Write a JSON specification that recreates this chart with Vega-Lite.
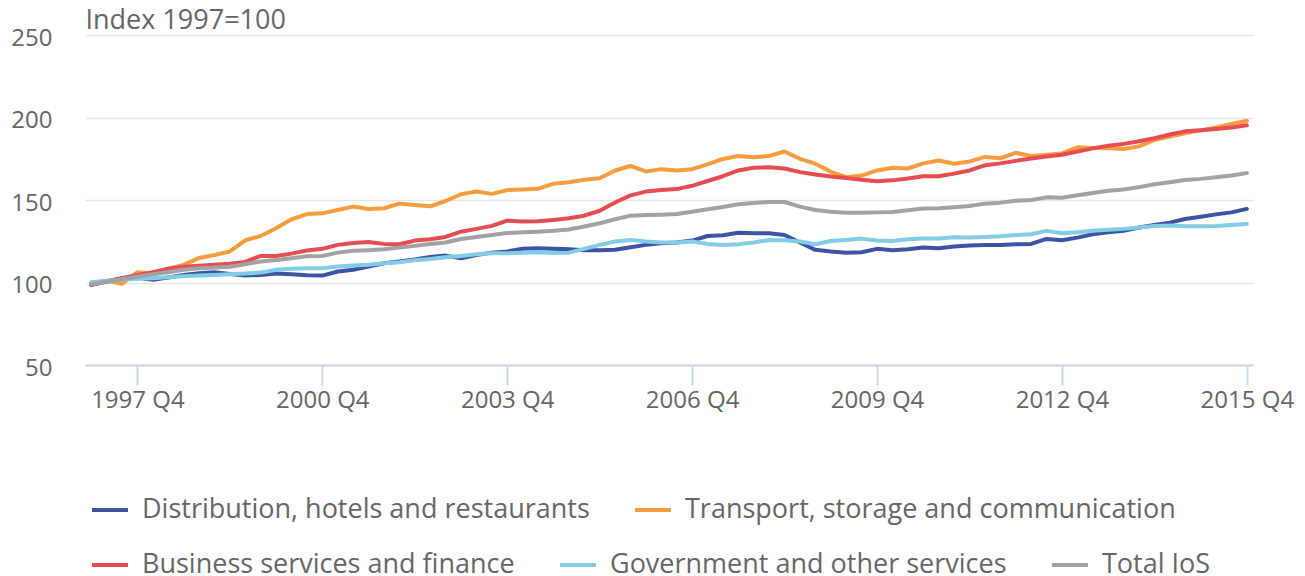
{
"$schema": "https://vega.github.io/schema/vega-lite/v6.json",
"width": 1168, "height": 330,
"autosize": {"type": "none"},
"padding": {"left": 85, "top": 35, "right": 52, "bottom": 211},
"background": "white",
"config": {
  "font": "Open Sans",
  "view": {"stroke": null},
  "axis": {"labelFont": "Open Sans", "labelFontSize": 24, "labelColor": "#666666", "titleFont": "Open Sans"},
  "legend": {"symbolType": "stroke", "symbolSize": 1296, "symbolStrokeWidth": 4, "labelFont": "Open Sans", "labelFontSize": 27, "labelColor": "#666666", "labelLimit": 1000, "labelOffset": 12, "columnPadding": 37, "padding": 0}
},
"data": {"values": [
{"q":"1997 Q1","s":"Distribution, hotels and restaurants","v":98.6},{"q":"1997 Q2","s":"Distribution, hotels and restaurants","v":100.6},{"q":"1997 Q3","s":"Distribution, hotels and restaurants","v":102.6},{"q":"1997 Q4","s":"Distribution, hotels and restaurants","v":103},
{"q":"1998 Q1","s":"Distribution, hotels and restaurants","v":101.6},{"q":"1998 Q2","s":"Distribution, hotels and restaurants","v":103},{"q":"1998 Q3","s":"Distribution, hotels and restaurants","v":104.6},{"q":"1998 Q4","s":"Distribution, hotels and restaurants","v":105.6},
{"q":"1999 Q1","s":"Distribution, hotels and restaurants","v":106.2},{"q":"1999 Q2","s":"Distribution, hotels and restaurants","v":105.2},{"q":"1999 Q3","s":"Distribution, hotels and restaurants","v":104.2},{"q":"1999 Q4","s":"Distribution, hotels and restaurants","v":104.6},
{"q":"2000 Q1","s":"Distribution, hotels and restaurants","v":105.4},{"q":"2000 Q2","s":"Distribution, hotels and restaurants","v":105},{"q":"2000 Q3","s":"Distribution, hotels and restaurants","v":104.4},{"q":"2000 Q4","s":"Distribution, hotels and restaurants","v":104.2},
{"q":"2001 Q1","s":"Distribution, hotels and restaurants","v":106.7},{"q":"2001 Q2","s":"Distribution, hotels and restaurants","v":107.7},{"q":"2001 Q3","s":"Distribution, hotels and restaurants","v":109.7},{"q":"2001 Q4","s":"Distribution, hotels and restaurants","v":111.7},
{"q":"2002 Q1","s":"Distribution, hotels and restaurants","v":112.7},{"q":"2002 Q2","s":"Distribution, hotels and restaurants","v":113.9},{"q":"2002 Q3","s":"Distribution, hotels and restaurants","v":115.4},{"q":"2002 Q4","s":"Distribution, hotels and restaurants","v":116.3},
{"q":"2003 Q1","s":"Distribution, hotels and restaurants","v":114.7},{"q":"2003 Q2","s":"Distribution, hotels and restaurants","v":116.7},{"q":"2003 Q3","s":"Distribution, hotels and restaurants","v":118.1},{"q":"2003 Q4","s":"Distribution, hotels and restaurants","v":118.8},
{"q":"2004 Q1","s":"Distribution, hotels and restaurants","v":120.4},{"q":"2004 Q2","s":"Distribution, hotels and restaurants","v":120.8},{"q":"2004 Q3","s":"Distribution, hotels and restaurants","v":120.4},{"q":"2004 Q4","s":"Distribution, hotels and restaurants","v":120.2},
{"q":"2005 Q1","s":"Distribution, hotels and restaurants","v":119.6},{"q":"2005 Q2","s":"Distribution, hotels and restaurants","v":119.6},{"q":"2005 Q3","s":"Distribution, hotels and restaurants","v":119.8},{"q":"2005 Q4","s":"Distribution, hotels and restaurants","v":121.4},
{"q":"2006 Q1","s":"Distribution, hotels and restaurants","v":122.8},{"q":"2006 Q2","s":"Distribution, hotels and restaurants","v":123.8},{"q":"2006 Q3","s":"Distribution, hotels and restaurants","v":124.2},{"q":"2006 Q4","s":"Distribution, hotels and restaurants","v":125.4},
{"q":"2007 Q1","s":"Distribution, hotels and restaurants","v":128.2},{"q":"2007 Q2","s":"Distribution, hotels and restaurants","v":128.6},{"q":"2007 Q3","s":"Distribution, hotels and restaurants","v":130.2},{"q":"2007 Q4","s":"Distribution, hotels and restaurants","v":129.8},
{"q":"2008 Q1","s":"Distribution, hotels and restaurants","v":129.8},{"q":"2008 Q2","s":"Distribution, hotels and restaurants","v":128.8},{"q":"2008 Q3","s":"Distribution, hotels and restaurants","v":124.2},{"q":"2008 Q4","s":"Distribution, hotels and restaurants","v":119.8},
{"q":"2009 Q1","s":"Distribution, hotels and restaurants","v":118.8},{"q":"2009 Q2","s":"Distribution, hotels and restaurants","v":118.1},{"q":"2009 Q3","s":"Distribution, hotels and restaurants","v":118.3},{"q":"2009 Q4","s":"Distribution, hotels and restaurants","v":120.4},
{"q":"2010 Q1","s":"Distribution, hotels and restaurants","v":119.6},{"q":"2010 Q2","s":"Distribution, hotels and restaurants","v":120.2},{"q":"2010 Q3","s":"Distribution, hotels and restaurants","v":121.2},{"q":"2010 Q4","s":"Distribution, hotels and restaurants","v":120.8},
{"q":"2011 Q1","s":"Distribution, hotels and restaurants","v":121.8},{"q":"2011 Q2","s":"Distribution, hotels and restaurants","v":122.4},{"q":"2011 Q3","s":"Distribution, hotels and restaurants","v":122.8},{"q":"2011 Q4","s":"Distribution, hotels and restaurants","v":122.8},
{"q":"2012 Q1","s":"Distribution, hotels and restaurants","v":123.2},{"q":"2012 Q2","s":"Distribution, hotels and restaurants","v":123.4},{"q":"2012 Q3","s":"Distribution, hotels and restaurants","v":126.4},{"q":"2012 Q4","s":"Distribution, hotels and restaurants","v":125.6},
{"q":"2013 Q1","s":"Distribution, hotels and restaurants","v":127.2},{"q":"2013 Q2","s":"Distribution, hotels and restaurants","v":129.2},{"q":"2013 Q3","s":"Distribution, hotels and restaurants","v":130.4},{"q":"2013 Q4","s":"Distribution, hotels and restaurants","v":131.3},
{"q":"2014 Q1","s":"Distribution, hotels and restaurants","v":133.3},{"q":"2014 Q2","s":"Distribution, hotels and restaurants","v":134.9},{"q":"2014 Q3","s":"Distribution, hotels and restaurants","v":136.3},{"q":"2014 Q4","s":"Distribution, hotels and restaurants","v":138.5},
{"q":"2015 Q1","s":"Distribution, hotels and restaurants","v":139.9},{"q":"2015 Q2","s":"Distribution, hotels and restaurants","v":141.3},{"q":"2015 Q3","s":"Distribution, hotels and restaurants","v":142.5},{"q":"2015 Q4","s":"Distribution, hotels and restaurants","v":144.6},

{"q":"1997 Q1","s":"Transport, storage and communication","v":99},{"q":"1997 Q2","s":"Transport, storage and communication","v":101},{"q":"1997 Q3","s":"Transport, storage and communication","v":99.2},{"q":"1997 Q4","s":"Transport, storage and communication","v":106.2},
{"q":"1998 Q1","s":"Transport, storage and communication","v":105.4},{"q":"1998 Q2","s":"Transport, storage and communication","v":108.3},{"q":"1998 Q3","s":"Transport, storage and communication","v":110.7},{"q":"1998 Q4","s":"Transport, storage and communication","v":114.9},
{"q":"1999 Q1","s":"Transport, storage and communication","v":116.7},{"q":"1999 Q2","s":"Transport, storage and communication","v":118.8},{"q":"1999 Q3","s":"Transport, storage and communication","v":125.6},{"q":"1999 Q4","s":"Transport, storage and communication","v":128.2},
{"q":"2000 Q1","s":"Transport, storage and communication","v":132.9},{"q":"2000 Q2","s":"Transport, storage and communication","v":138.3},{"q":"2000 Q3","s":"Transport, storage and communication","v":141.5},{"q":"2000 Q4","s":"Transport, storage and communication","v":141.9},
{"q":"2001 Q1","s":"Transport, storage and communication","v":143.9},{"q":"2001 Q2","s":"Transport, storage and communication","v":146},{"q":"2001 Q3","s":"Transport, storage and communication","v":144.6},{"q":"2001 Q4","s":"Transport, storage and communication","v":145},
{"q":"2002 Q1","s":"Transport, storage and communication","v":147.8},{"q":"2002 Q2","s":"Transport, storage and communication","v":147},{"q":"2002 Q3","s":"Transport, storage and communication","v":146.2},{"q":"2002 Q4","s":"Transport, storage and communication","v":149.4},
{"q":"2003 Q1","s":"Transport, storage and communication","v":153.5},{"q":"2003 Q2","s":"Transport, storage and communication","v":155.1},{"q":"2003 Q3","s":"Transport, storage and communication","v":153.7},{"q":"2003 Q4","s":"Transport, storage and communication","v":156},
{"q":"2004 Q1","s":"Transport, storage and communication","v":156.4},{"q":"2004 Q2","s":"Transport, storage and communication","v":156.8},{"q":"2004 Q3","s":"Transport, storage and communication","v":159.9},{"q":"2004 Q4","s":"Transport, storage and communication","v":160.7},
{"q":"2005 Q1","s":"Transport, storage and communication","v":162.3},{"q":"2005 Q2","s":"Transport, storage and communication","v":163.2},{"q":"2005 Q3","s":"Transport, storage and communication","v":167.9},{"q":"2005 Q4","s":"Transport, storage and communication","v":170.6},
{"q":"2006 Q1","s":"Transport, storage and communication","v":167.3},{"q":"2006 Q2","s":"Transport, storage and communication","v":168.7},{"q":"2006 Q3","s":"Transport, storage and communication","v":167.9},{"q":"2006 Q4","s":"Transport, storage and communication","v":168.7},
{"q":"2007 Q1","s":"Transport, storage and communication","v":171.6},{"q":"2007 Q2","s":"Transport, storage and communication","v":174.9},{"q":"2007 Q3","s":"Transport, storage and communication","v":176.7},{"q":"2007 Q4","s":"Transport, storage and communication","v":175.9},
{"q":"2008 Q1","s":"Transport, storage and communication","v":176.7},{"q":"2008 Q2","s":"Transport, storage and communication","v":179.4},{"q":"2008 Q3","s":"Transport, storage and communication","v":174.9},{"q":"2008 Q4","s":"Transport, storage and communication","v":172},
{"q":"2009 Q1","s":"Transport, storage and communication","v":167.1},{"q":"2009 Q2","s":"Transport, storage and communication","v":163.8},{"q":"2009 Q3","s":"Transport, storage and communication","v":164.8},{"q":"2009 Q4","s":"Transport, storage and communication","v":167.9},
{"q":"2010 Q1","s":"Transport, storage and communication","v":169.5},{"q":"2010 Q2","s":"Transport, storage and communication","v":169.1},{"q":"2010 Q3","s":"Transport, storage and communication","v":172.2},{"q":"2010 Q4","s":"Transport, storage and communication","v":173.9},
{"q":"2011 Q1","s":"Transport, storage and communication","v":172},{"q":"2011 Q2","s":"Transport, storage and communication","v":173.3},{"q":"2011 Q3","s":"Transport, storage and communication","v":176.1},{"q":"2011 Q4","s":"Transport, storage and communication","v":175.3},
{"q":"2012 Q1","s":"Transport, storage and communication","v":178.6},{"q":"2012 Q2","s":"Transport, storage and communication","v":176.7},{"q":"2012 Q3","s":"Transport, storage and communication","v":177.4},{"q":"2012 Q4","s":"Transport, storage and communication","v":178.2},
{"q":"2013 Q1","s":"Transport, storage and communication","v":181.9},{"q":"2013 Q2","s":"Transport, storage and communication","v":181.5},{"q":"2013 Q3","s":"Transport, storage and communication","v":181.3},{"q":"2013 Q4","s":"Transport, storage and communication","v":180.9},
{"q":"2014 Q1","s":"Transport, storage and communication","v":182.5},{"q":"2014 Q2","s":"Transport, storage and communication","v":186.4},{"q":"2014 Q3","s":"Transport, storage and communication","v":188.5},{"q":"2014 Q4","s":"Transport, storage and communication","v":190.5},
{"q":"2015 Q1","s":"Transport, storage and communication","v":192.2},{"q":"2015 Q2","s":"Transport, storage and communication","v":194},{"q":"2015 Q3","s":"Transport, storage and communication","v":196.1},{"q":"2015 Q4","s":"Transport, storage and communication","v":198},

{"q":"1997 Q1","s":"Business services and finance","v":98.6},{"q":"1997 Q2","s":"Business services and finance","v":100.6},{"q":"1997 Q3","s":"Business services and finance","v":102.6},{"q":"1997 Q4","s":"Business services and finance","v":104.6},
{"q":"1998 Q1","s":"Business services and finance","v":106.2},{"q":"1998 Q2","s":"Business services and finance","v":108.3},{"q":"1998 Q3","s":"Business services and finance","v":109.5},{"q":"1998 Q4","s":"Business services and finance","v":110.1},
{"q":"1999 Q1","s":"Business services and finance","v":110.7},{"q":"1999 Q2","s":"Business services and finance","v":111.3},{"q":"1999 Q3","s":"Business services and finance","v":112.5},{"q":"1999 Q4","s":"Business services and finance","v":116.1},
{"q":"2000 Q1","s":"Business services and finance","v":116.1},{"q":"2000 Q2","s":"Business services and finance","v":117.5},{"q":"2000 Q3","s":"Business services and finance","v":119.4},{"q":"2000 Q4","s":"Business services and finance","v":120.4},
{"q":"2001 Q1","s":"Business services and finance","v":122.8},{"q":"2001 Q2","s":"Business services and finance","v":124},{"q":"2001 Q3","s":"Business services and finance","v":124.6},{"q":"2001 Q4","s":"Business services and finance","v":123.4},
{"q":"2002 Q1","s":"Business services and finance","v":123.2},{"q":"2002 Q2","s":"Business services and finance","v":125.4},{"q":"2002 Q3","s":"Business services and finance","v":126.2},{"q":"2002 Q4","s":"Business services and finance","v":127.6},
{"q":"2003 Q1","s":"Business services and finance","v":130.8},{"q":"2003 Q2","s":"Business services and finance","v":132.5},{"q":"2003 Q3","s":"Business services and finance","v":134.3},{"q":"2003 Q4","s":"Business services and finance","v":137.5},
{"q":"2004 Q1","s":"Business services and finance","v":136.9},{"q":"2004 Q2","s":"Business services and finance","v":137.1},{"q":"2004 Q3","s":"Business services and finance","v":137.9},{"q":"2004 Q4","s":"Business services and finance","v":138.9},
{"q":"2005 Q1","s":"Business services and finance","v":140.5},{"q":"2005 Q2","s":"Business services and finance","v":143.5},{"q":"2005 Q3","s":"Business services and finance","v":148.5},{"q":"2005 Q4","s":"Business services and finance","v":152.8},
{"q":"2006 Q1","s":"Business services and finance","v":155.1},{"q":"2006 Q2","s":"Business services and finance","v":156},{"q":"2006 Q3","s":"Business services and finance","v":156.6},{"q":"2006 Q4","s":"Business services and finance","v":158.6},
{"q":"2007 Q1","s":"Business services and finance","v":161.5},{"q":"2007 Q2","s":"Business services and finance","v":164.4},{"q":"2007 Q3","s":"Business services and finance","v":167.9},{"q":"2007 Q4","s":"Business services and finance","v":169.5},
{"q":"2008 Q1","s":"Business services and finance","v":169.8},{"q":"2008 Q2","s":"Business services and finance","v":169.1},{"q":"2008 Q3","s":"Business services and finance","v":166.9},{"q":"2008 Q4","s":"Business services and finance","v":165.4},
{"q":"2009 Q1","s":"Business services and finance","v":164.2},{"q":"2009 Q2","s":"Business services and finance","v":163.4},{"q":"2009 Q3","s":"Business services and finance","v":162.3},{"q":"2009 Q4","s":"Business services and finance","v":161.3},
{"q":"2010 Q1","s":"Business services and finance","v":161.9},{"q":"2010 Q2","s":"Business services and finance","v":163},{"q":"2010 Q3","s":"Business services and finance","v":164.4},{"q":"2010 Q4","s":"Business services and finance","v":164.4},
{"q":"2011 Q1","s":"Business services and finance","v":166},{"q":"2011 Q2","s":"Business services and finance","v":167.9},{"q":"2011 Q3","s":"Business services and finance","v":171},{"q":"2011 Q4","s":"Business services and finance","v":172.2},
{"q":"2012 Q1","s":"Business services and finance","v":173.7},{"q":"2012 Q2","s":"Business services and finance","v":175.1},{"q":"2012 Q3","s":"Business services and finance","v":176.3},{"q":"2012 Q4","s":"Business services and finance","v":177.4},
{"q":"2013 Q1","s":"Business services and finance","v":179.4},{"q":"2013 Q2","s":"Business services and finance","v":181.3},{"q":"2013 Q3","s":"Business services and finance","v":182.9},{"q":"2013 Q4","s":"Business services and finance","v":184},
{"q":"2014 Q1","s":"Business services and finance","v":185.6},{"q":"2014 Q2","s":"Business services and finance","v":187.4},{"q":"2014 Q3","s":"Business services and finance","v":189.7},{"q":"2014 Q4","s":"Business services and finance","v":191.6},
{"q":"2015 Q1","s":"Business services and finance","v":192.2},{"q":"2015 Q2","s":"Business services and finance","v":193},{"q":"2015 Q3","s":"Business services and finance","v":194},{"q":"2015 Q4","s":"Business services and finance","v":195.3},

{"q":"1997 Q1","s":"Government and other services","v":100.2},{"q":"1997 Q2","s":"Government and other services","v":101},{"q":"1997 Q3","s":"Government and other services","v":101.6},{"q":"1997 Q4","s":"Government and other services","v":102.2},
{"q":"1998 Q1","s":"Government and other services","v":102.6},{"q":"1998 Q2","s":"Government and other services","v":103.2},{"q":"1998 Q3","s":"Government and other services","v":103.8},{"q":"1998 Q4","s":"Government and other services","v":104.2},
{"q":"1999 Q1","s":"Government and other services","v":104.6},{"q":"1999 Q2","s":"Government and other services","v":105},{"q":"1999 Q3","s":"Government and other services","v":105.4},{"q":"1999 Q4","s":"Government and other services","v":106},
{"q":"2000 Q1","s":"Government and other services","v":107.7},{"q":"2000 Q2","s":"Government and other services","v":108.3},{"q":"2000 Q3","s":"Government and other services","v":108.7},{"q":"2000 Q4","s":"Government and other services","v":108.7},
{"q":"2001 Q1","s":"Government and other services","v":109.7},{"q":"2001 Q2","s":"Government and other services","v":110.3},{"q":"2001 Q3","s":"Government and other services","v":110.7},{"q":"2001 Q4","s":"Government and other services","v":111.7},
{"q":"2002 Q1","s":"Government and other services","v":112.3},{"q":"2002 Q2","s":"Government and other services","v":113.5},{"q":"2002 Q3","s":"Government and other services","v":114.2},{"q":"2002 Q4","s":"Government and other services","v":115.3},
{"q":"2003 Q1","s":"Government and other services","v":116.1},{"q":"2003 Q2","s":"Government and other services","v":117.1},{"q":"2003 Q3","s":"Government and other services","v":117.7},{"q":"2003 Q4","s":"Government and other services","v":117.7},
{"q":"2004 Q1","s":"Government and other services","v":118.1},{"q":"2004 Q2","s":"Government and other services","v":118.3},{"q":"2004 Q3","s":"Government and other services","v":117.9},{"q":"2004 Q4","s":"Government and other services","v":118.1},
{"q":"2005 Q1","s":"Government and other services","v":120.4},{"q":"2005 Q2","s":"Government and other services","v":122.8},{"q":"2005 Q3","s":"Government and other services","v":124.8},{"q":"2005 Q4","s":"Government and other services","v":125.8},
{"q":"2006 Q1","s":"Government and other services","v":124.8},{"q":"2006 Q2","s":"Government and other services","v":124.2},{"q":"2006 Q3","s":"Government and other services","v":124.2},{"q":"2006 Q4","s":"Government and other services","v":124.8},
{"q":"2007 Q1","s":"Government and other services","v":123.4},{"q":"2007 Q2","s":"Government and other services","v":122.8},{"q":"2007 Q3","s":"Government and other services","v":123.2},{"q":"2007 Q4","s":"Government and other services","v":124.2},
{"q":"2008 Q1","s":"Government and other services","v":125.8},{"q":"2008 Q2","s":"Government and other services","v":125.6},{"q":"2008 Q3","s":"Government and other services","v":124.8},{"q":"2008 Q4","s":"Government and other services","v":123.2},
{"q":"2009 Q1","s":"Government and other services","v":125.2},{"q":"2009 Q2","s":"Government and other services","v":125.8},{"q":"2009 Q3","s":"Government and other services","v":126.6},{"q":"2009 Q4","s":"Government and other services","v":125.4},
{"q":"2010 Q1","s":"Government and other services","v":125.2},{"q":"2010 Q2","s":"Government and other services","v":126.2},{"q":"2010 Q3","s":"Government and other services","v":126.6},{"q":"2010 Q4","s":"Government and other services","v":126.6},
{"q":"2011 Q1","s":"Government and other services","v":127.4},{"q":"2011 Q2","s":"Government and other services","v":127.2},{"q":"2011 Q3","s":"Government and other services","v":127.6},{"q":"2011 Q4","s":"Government and other services","v":128},
{"q":"2012 Q1","s":"Government and other services","v":128.8},{"q":"2012 Q2","s":"Government and other services","v":129.2},{"q":"2012 Q3","s":"Government and other services","v":131.3},{"q":"2012 Q4","s":"Government and other services","v":129.8},
{"q":"2013 Q1","s":"Government and other services","v":130.4},{"q":"2013 Q2","s":"Government and other services","v":131.3},{"q":"2013 Q3","s":"Government and other services","v":131.9},{"q":"2013 Q4","s":"Government and other services","v":132.5},
{"q":"2014 Q1","s":"Government and other services","v":133.3},{"q":"2014 Q2","s":"Government and other services","v":134.3},{"q":"2014 Q3","s":"Government and other services","v":134.5},{"q":"2014 Q4","s":"Government and other services","v":134.1},
{"q":"2015 Q1","s":"Government and other services","v":134.1},{"q":"2015 Q2","s":"Government and other services","v":134.3},{"q":"2015 Q3","s":"Government and other services","v":134.9},{"q":"2015 Q4","s":"Government and other services","v":135.5},

{"q":"1997 Q1","s":"Total IoS","v":99},{"q":"1997 Q2","s":"Total IoS","v":100.6},{"q":"1997 Q3","s":"Total IoS","v":102},{"q":"1997 Q4","s":"Total IoS","v":103.6},
{"q":"1998 Q1","s":"Total IoS","v":105},{"q":"1998 Q2","s":"Total IoS","v":106.2},{"q":"1998 Q3","s":"Total IoS","v":107.7},{"q":"1998 Q4","s":"Total IoS","v":108.7},
{"q":"1999 Q1","s":"Total IoS","v":109.1},{"q":"1999 Q2","s":"Total IoS","v":109.5},{"q":"1999 Q3","s":"Total IoS","v":111.1},{"q":"1999 Q4","s":"Total IoS","v":112.7},
{"q":"2000 Q1","s":"Total IoS","v":113.7},{"q":"2000 Q2","s":"Total IoS","v":114.7},{"q":"2000 Q3","s":"Total IoS","v":115.9},{"q":"2000 Q4","s":"Total IoS","v":116.1},
{"q":"2001 Q1","s":"Total IoS","v":118.1},{"q":"2001 Q2","s":"Total IoS","v":119.2},{"q":"2001 Q3","s":"Total IoS","v":119.6},{"q":"2001 Q4","s":"Total IoS","v":120.2},
{"q":"2002 Q1","s":"Total IoS","v":121.2},{"q":"2002 Q2","s":"Total IoS","v":122.2},{"q":"2002 Q3","s":"Total IoS","v":123.3},{"q":"2002 Q4","s":"Total IoS","v":124.2},
{"q":"2003 Q1","s":"Total IoS","v":126.4},{"q":"2003 Q2","s":"Total IoS","v":127.6},{"q":"2003 Q3","s":"Total IoS","v":128.8},{"q":"2003 Q4","s":"Total IoS","v":130},
{"q":"2004 Q1","s":"Total IoS","v":130.4},{"q":"2004 Q2","s":"Total IoS","v":130.8},{"q":"2004 Q3","s":"Total IoS","v":131.3},{"q":"2004 Q4","s":"Total IoS","v":132.1},
{"q":"2005 Q1","s":"Total IoS","v":133.9},{"q":"2005 Q2","s":"Total IoS","v":135.9},{"q":"2005 Q3","s":"Total IoS","v":138.3},{"q":"2005 Q4","s":"Total IoS","v":140.5},
{"q":"2006 Q1","s":"Total IoS","v":140.9},{"q":"2006 Q2","s":"Total IoS","v":141.1},{"q":"2006 Q3","s":"Total IoS","v":141.5},{"q":"2006 Q4","s":"Total IoS","v":142.9},
{"q":"2007 Q1","s":"Total IoS","v":144.4},{"q":"2007 Q2","s":"Total IoS","v":145.8},{"q":"2007 Q3","s":"Total IoS","v":147.4},{"q":"2007 Q4","s":"Total IoS","v":148.2},
{"q":"2008 Q1","s":"Total IoS","v":148.8},{"q":"2008 Q2","s":"Total IoS","v":148.8},{"q":"2008 Q3","s":"Total IoS","v":146},{"q":"2008 Q4","s":"Total IoS","v":143.9},
{"q":"2009 Q1","s":"Total IoS","v":142.9},{"q":"2009 Q2","s":"Total IoS","v":142.3},{"q":"2009 Q3","s":"Total IoS","v":142.3},{"q":"2009 Q4","s":"Total IoS","v":142.5},
{"q":"2010 Q1","s":"Total IoS","v":142.7},{"q":"2010 Q2","s":"Total IoS","v":143.8},{"q":"2010 Q3","s":"Total IoS","v":144.8},{"q":"2010 Q4","s":"Total IoS","v":145},
{"q":"2011 Q1","s":"Total IoS","v":145.6},{"q":"2011 Q2","s":"Total IoS","v":146.4},{"q":"2011 Q3","s":"Total IoS","v":147.8},{"q":"2011 Q4","s":"Total IoS","v":148.4},
{"q":"2012 Q1","s":"Total IoS","v":149.6},{"q":"2012 Q2","s":"Total IoS","v":150},{"q":"2012 Q3","s":"Total IoS","v":151.6},{"q":"2012 Q4","s":"Total IoS","v":151.4},
{"q":"2013 Q1","s":"Total IoS","v":152.9},{"q":"2013 Q2","s":"Total IoS","v":154.3},{"q":"2013 Q3","s":"Total IoS","v":155.6},{"q":"2013 Q4","s":"Total IoS","v":156.4},
{"q":"2014 Q1","s":"Total IoS","v":157.8},{"q":"2014 Q2","s":"Total IoS","v":159.5},{"q":"2014 Q3","s":"Total IoS","v":160.7},{"q":"2014 Q4","s":"Total IoS","v":162.1},
{"q":"2015 Q1","s":"Total IoS","v":162.8},{"q":"2015 Q2","s":"Total IoS","v":163.8},{"q":"2015 Q3","s":"Total IoS","v":164.8},{"q":"2015 Q4","s":"Total IoS","v":166.3}
]},
"encoding": {
  "x": {"field": "q", "type": "ordinal", "scale": {"type": "point", "padding": 0.4},
        "axis": {"title": null, "values": ["1997 Q4","2000 Q4","2003 Q4","2006 Q4","2009 Q4","2012 Q4","2015 Q4"],
                 "labelAngle": 0, "grid": false, "domain": true, "domainColor": "#ccd6eb", "domainWidth": 2,
                 "ticks": true, "tickColor": "#ccd6eb", "tickWidth": 2, "tickSize": 20, "labelPadding": 3, "zindex": 1}},
  "y": {"field": "v", "type": "quantitative", "scale": {"domain": [50, 250], "nice": false, "zero": false},
        "axis": {"title": "Index 1997=100", "titleAngle": 0, "titleAlign": "left", "titleBaseline": "alphabetic",
                 "titleX": 0, "titleY": -7, "titleFontSize": 27, "titleFontWeight": "normal", "titleColor": "#666666",
                 "values": [50, 100, 150, 200, 250], "domain": false, "ticks": false, "labelPadding": 33, "labelOffset": 3,
                 "grid": true, "gridColor": "#e6e6e6", "gridWidth": 1.5}}
},
"layer": [
  {"transform": [{"filter": {"field": "s", "oneOf": ["Distribution, hotels and restaurants", "Transport, storage and communication"]}}],
   "mark": {"type": "line", "strokeWidth": 4, "strokeJoin": "round", "strokeCap": "round"},
   "encoding": {"color": {"field": "s", "type": "nominal",
     "scale": {"domain": ["Distribution, hotels and restaurants", "Transport, storage and communication"], "range": ["#3b54a4", "#f89d3e"]},
     "legend": {"title": null, "orient": "none", "direction": "horizontal", "legendX": 5, "legendY": 455}}}},
  {"transform": [{"filter": {"field": "s", "oneOf": ["Business services and finance", "Government and other services", "Total IoS"]}}],
   "mark": {"type": "line", "strokeWidth": 4, "strokeJoin": "round", "strokeCap": "round"},
   "encoding": {"color": {"field": "s", "type": "nominal",
     "scale": {"domain": ["Business services and finance", "Government and other services", "Total IoS"], "range": ["#e74c51", "#82cce6", "#a2a2a2"]},
     "legend": {"title": null, "orient": "none", "direction": "horizontal", "legendX": 5, "legendY": 510}}}}
],
"resolve": {"scale": {"color": "independent"}, "legend": {"color": "independent"}}
}
